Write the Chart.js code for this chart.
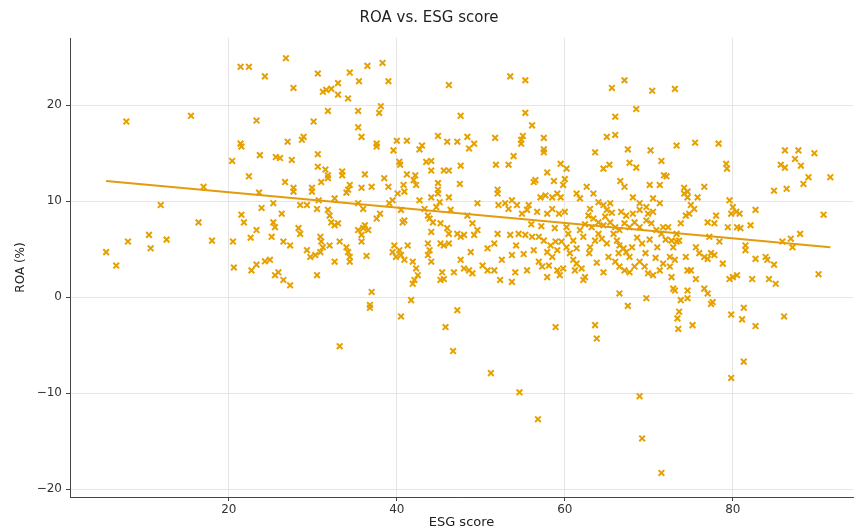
<!DOCTYPE html>
<html>
<head>
<meta charset="utf-8">
<script src="https://cdn.jsdelivr.net/npm/chart.js@4.4.1/dist/chart.umd.min.js"></script>
<style>
  html, body { margin: 0; padding: 0; background: #fff; }
  #wrap { width: 859px; height: 531px; }
</style>
</head>
<body>
<div id="wrap"><canvas id="chartRoa" width="859" height="531"></canvas></div>
<script>
// ESG score (x) and ROA in % (y), grouped by area
const esgScore = [
  5.4,6.6,7.8,8.0,10.5,10.7,11.9,12.6,15.5,16.4,17.0,18.0,20.4,20.5,20.6,21.4,22.4,24.3,23.3,21.4,21.5,23.7,22.4,23.6,21.5,21.8,23.9,23.3,22.6,22.7,23.3,24.3,
  26.8,30.6,34.4,36.5,38.3,27.7,33.0,31.6,31.2,32.2,
  35.5,33.0,34.2,39.0,46.2,31.8,35.4,38.1,37.9,47.6,
  30.1,35.4,35.8,27.0,28.9,28.7,37.6,37.6,40.0,41.2,
  44.9,46.0,47.2,43.0,42.7,39.6,30.6,25.6,26.1,27.5,
  40.3,40.4,43.5,44.1,30.6,31.5,31.8,31.8,33.5,33.5,
  36.2,41.2,42.2,44.1,45.6,46.2,47.6,26.7,27.7,29.9,
  31.0,34.4,34.2,35.8,37.0,38.5,39.0,40.8,40.9,42.0,
  42.3,44.9,44.9,47.5,
  53.5,55.3,65.6,67.1,70.4,55.3,68.5,56.1,66.0,48.4,
  49.2,48.6,51.7,55.0,54.8,54.8,57.5,57.5,57.5,65.0,
  66.0,67.5,70.2,63.6,53.9,51.8,53.3,64.6,65.3,67.7,
  68.5,71.5,59.5,60.2,57.9,56.5,56.3,58.7,60.0,59.8,
  62.6,66.6,67.1,70.1,71.3,71.8,52.0,
  73.1,73.3,75.5,78.3,79.2,79.3,86.2,87.8,89.7,87.4,
  85.7,86.2,88.1,89.0,88.4,91.6,84.9,86.4,72.1,74.2,
  74.6,76.6,
  25.3,26.3,25.3,25.5,25.1,27.7,29.9,28.5,29.3,28.3,
  28.5,30.7,30.5,31.8,32.0,32.2,32.6,33.0,32.6,34.0,
  35.4,36.0,38.0,37.6,35.4,36.0,36.2,36.6,35.8,35.8,
  30.9,31.0,31.2,30.9,32.0,26.5,27.3,29.3,29.7,30.3,
  24.9,32.6,33.2,34.0,34.2,34.4,34.4,36.4,25.5,25.9,
  26.5,27.3,30.5,37.0,36.8,36.8,39.1,39.5,40.1,40.5,
  40.9,40.7,39.7,39.5,40.3,39.9,40.5,41.3,40.9,41.9,
  42.3,42.5,41.9,42.1,41.7,40.5,45.8,47.2,42.7,43.3,
  43.7,44.1,44.9,45.1,44.7,43.9,44.3,46.2,46.4,44.1,
  45.2,46.0,46.2,47.2,47.6,48.0,43.7,43.9,43.7,44.1,
  45.2,45.6,46.2,45.4,45.6,45.2,46.8,47.6,48.0,
  49.6,52.0,48.4,49.0,49.6,49.2,52.1,52.9,53.3,53.7,
  54.3,54.9,55.7,55.5,52.0,53.5,54.5,55.3,56.1,56.9,
  57.1,57.7,58.5,59.1,59.5,56.7,57.9,58.5,59.3,60.0,
  61.4,61.8,63.4,64.0,64.6,65.0,65.4,68.1,68.9,69.7,
  70.5,71.3,62.8,63.4,64.0,64.6,63.2,64.0,64.4,63.6,
  61.8,62.2,61.0,61.4,60.2,60.4,59.6,60.2,57.5,58.3,
  58.9,57.9,58.5,59.1,56.9,57.3,58.1,59.1,59.8,59.4,
  57.9,60.6,61.0,61.4,62.0,61.2,62.4,62.2,50.8,51.6,
  50.2,50.8,51.6,52.5,53.7,54.1,55.5,52.3,53.7,48.8,
  48.6,49.0,65.8,66.2,66.5,67.0,66.4,67.3,67.7,66.0,
  66.5,67.1,67.7,68.3,68.9,69.5,69.9,70.5,71.3,71.7,
  65.4,66.0,66.5,67.1,67.7,68.3,68.9,69.7,70.3,70.9,
  71.5,71.7,66.7,67.3,68.1,68.9,69.9,70.5,66.5,69.7,
  67.5,58.9,63.6,63.8,63.0,64.8,65.6,62.4,68.6,69.2,
  70.1,68.0,69.6,70.8,62.9,63.8,64.6,65.2,65.0,63.0,
  71.0,72.0,56.0,57.2,58.8,55.1,56.3,54.2,
  74.2,74.6,75.8,75.0,75.4,74.8,74.4,73.8,73.3,72.7,
  73.3,72.9,73.6,72.3,72.5,77.0,78.0,77.8,79.6,80.0,
  80.4,79.8,80.8,82.7,90.8,79.4,80.5,80.9,82.1,75.6,
  76.0,76.6,77.0,77.4,77.8,77.2,78.4,81.5,81.5,85.9,
  86.9,88.0,87.1,74.4,73.1,72.5,72.7,74.6,75.0,75.6,
  74.6,72.9,73.1,76.6,77.0,77.6,78.8,79.6,80.0,80.5,
  82.7,83.9,84.1,84.9,82.3,84.3,85.1,90.2,73.8,74.6,
  73.6,73.4,73.5,75.2,79.8,81.3,81.1,82.7,86.1,77.4,
  51.2,54.6,56.8,68.9,69.2,71.5,33.2,46.7,79.8,81.3
];
const roa = [
  4.7,3.3,18.3,5.8,6.5,5.1,9.6,6.0,18.9,7.8,11.5,5.9,14.2,5.8,3.1,24.0,24.0,23.0,18.4,16.0,15.7,14.8,12.6,10.9,8.6,7.8,9.3,7.0,6.2,2.8,3.4,3.75,
  24.9,23.3,23.4,24.1,24.4,21.8,22.3,21.6,21.4,21.7,
  22.5,21.1,20.7,22.5,22.1,19.4,19.4,19.9,19.2,18.9,
  18.3,17.7,16.7,16.2,16.7,16.4,16.0,15.7,16.3,16.3,
  16.8,16.2,16.2,15.8,15.4,15.3,14.9,14.6,14.5,14.3,
  14.1,13.8,14.1,14.2,13.6,13.3,12.7,12.4,13.1,12.7,
  12.8,12.8,12.7,13.2,13.2,13.2,13.7,12.0,11.4,11.4,
  12.0,11.7,11.2,11.4,11.5,12.4,11.5,11.7,11.0,12.2,
  11.7,11.9,11.2,11.8,
  23.0,22.6,21.8,22.6,21.5,19.2,19.6,17.9,18.8,16.7,
  16.0,15.5,16.6,16.8,16.4,16.0,16.6,15.4,15.1,16.7,
  16.9,15.4,15.3,15.1,14.7,13.8,13.8,13.4,13.8,14.0,
  13.5,14.2,13.9,13.4,13.0,12.2,12.0,12.1,12.3,11.7,
  11.5,12.1,11.5,11.7,11.7,12.7,11.2,
  21.7,15.8,16.1,16.0,13.9,13.4,15.3,15.3,15.0,14.4,
  13.8,13.5,13.7,12.5,11.8,12.5,11.1,11.3,12.6,11.4,
  11.0,11.5,
  9.8,8.7,7.8,7.3,6.3,11.0,11.0,9.6,9.6,7.2,
  6.6,10.1,9.2,9.1,8.5,7.8,7.5,7.7,10.3,10.9,
  9.8,9.2,8.7,8.2,7.0,7.2,7.5,7.0,6.5,5.8,
  6.3,5.8,5.2,4.7,5.4,5.8,5.4,4.9,4.2,4.4,
  3.9,3.7,5.8,5.2,4.7,4.2,3.7,4.3,2.3,2.6,
  1.8,1.25,2.3,0.55,-0.8,-1.1,9.8,10.1,10.8,9.1,
  8.0,7.8,5.4,4.7,4.9,4.2,4.4,5.4,3.9,3.7,
  3.0,2.3,1.4,1.8,-0.3,-2.0,-3.1,-1.35,10.1,9.2,
  8.5,10.4,10.8,9.9,9.4,8.2,7.8,10.4,9.1,6.8,
  7.7,7.2,6.6,6.6,6.3,6.5,5.6,4.9,4.4,3.7,
  5.6,5.4,5.6,2.6,1.9,1.8,2.6,3.9,3.0,
  9.8,10.8,8.5,7.7,7.0,6.5,9.6,9.8,9.2,10.1,
  9.6,8.7,9.6,9.1,6.6,6.5,6.6,6.5,6.3,6.3,
  10.4,10.6,10.4,10.8,10.4,8.9,8.7,9.2,8.7,8.9,
  10.8,10.3,10.8,9.9,9.6,9.1,9.8,10.4,9.8,9.4,
  10.3,9.8,8.5,8.2,7.8,7.5,7.3,6.6,6.1,5.9,
  7.0,6.3,5.9,5.1,7.3,6.6,5.8,5.2,5.9,5.4,
  5.8,4.7,4.2,4.9,3.7,3.2,3.3,2.8,3.0,2.3,
  2.1,4.6,3.9,3.5,3.0,2.8,2.1,1.8,5.1,5.6,
  3.3,2.8,2.8,3.9,4.4,2.6,2.8,1.8,1.6,4.7,
  2.8,2.5,6.6,5.9,5.4,5.1,4.6,4.7,4.2,3.7,
  3.2,2.8,2.6,3.2,3.7,3.2,2.5,2.3,2.8,3.5,
  7.8,7.3,7.0,7.7,7.3,7.8,7.3,8.0,7.7,7.0,
  6.6,7.3,8.9,8.5,8.7,9.1,8.7,8.9,0.4,-0.1,
  -0.9,-3.1,-2.9,-4.3,9.2,8.4,8.8,7.6,6.2,5.6,
  6.0,5.2,4.6,4.1,4.6,3.6,2.6,4.2,5.6,5.2,
  5.2,6.0,7.6,7.4,7.2,4.5,4.9,5.4,
  10.8,10.4,10.4,9.6,9.2,8.7,8.5,7.7,6.6,5.9,
  5.8,5.2,5.9,7.3,4.2,7.8,8.5,7.7,10.1,9.4,
  8.9,8.7,8.7,9.1,8.6,7.3,7.3,7.2,7.5,5.2,
  4.6,4.2,4.0,4.6,4.4,6.3,5.8,5.4,4.9,5.8,
  6.1,6.6,5.2,4.2,3.9,3.2,2.1,2.8,2.8,1.9,
  0.7,0.9,0.7,0.9,0.4,-0.5,3.5,1.9,2.1,2.3,
  4.0,4.2,3.9,3.4,1.9,1.9,1.4,2.4,-0.3,-0.1,
  -1.5,-2.2,-3.3,-2.9,-1.8,-1.1,-2.3,-3.0,-2.0,-0.7,
  -7.9,-9.9,-12.7,-10.3,-14.7,-18.3,-5.1,-5.6,-8.4,-6.7
];
// fitted line, end points as drawn
const trendEsg = [5.4, 91.6];
const trendRoa = [12.1, 5.2];
const xTicks = [20, 40, 60, 80];
const yTicks = [-20, -10, 0, 10, 20];

(function () {
  const orange = '#e6a100';
  const font = 'DejaVu Sans';
  Chart.defaults.font.family = font;
  Chart.defaults.color = '#333';

  const gridOpts = {
    color: '#dedede',
    lineWidth: 0.8,
    borderDash: [2, 3],
    tickColor: '#444',
    tickLength: 4,
    tickBorderDash: [],
    tickWidth: 1,
  };

  new Chart(document.getElementById('chartRoa'), {
    type: 'scatter',
    data: {
      datasets: [
        {
          type: 'line',
          data: trendEsg.map((x, i) => ({ x, y: trendRoa[i] })),
          borderColor: '#e39c0d',
          borderWidth: 2,
          pointRadius: 0,
          fill: false,
          order: 0,
        },
        {
          data: esgScore.map((x, i) => ({ x, y: roa[i] })),
          pointStyle: 'crossRot',
          pointRadius: 4,
          borderWidth: 2,
          borderColor: orange,
          backgroundColor: orange,
          order: 1,
        },
      ],
    },
    options: {
      responsive: false,
      animation: false,
      layout: { padding: { left: 0, right: 1, top: 0, bottom: 0 } },
      plugins: {
        legend: { display: false },
        tooltip: { enabled: false },
        title: {
          display: true,
          text: 'ROA vs. ESG score',
          color: '#222',
          font: { size: 15, weight: 'normal' },
          padding: { top: 9, bottom: 11 },
        },
      },
      scales: {
        x: {
          type: 'linear',
          min: 1.1,
          max: 94.3,
          afterBuildTicks: (s) => { s.ticks = xTicks.map((v) => ({ value: v })); },
          afterFit: (s) => { s.height = 34; },
          grid: gridOpts,
          border: { display: true, color: '#444', width: 1 },
          ticks: { font: { size: 12 }, color: '#333', padding: 2, maxRotation: 0 },
          title: {
            display: true,
            text: 'ESG score',
            color: '#222',
            font: { size: 13 },
            padding: { top: 0, bottom: 1 },
          },
        },
        y: {
          min: -20.8,
          max: 27,
          afterBuildTicks: (s) => { s.ticks = yTicks.map((v) => ({ value: v })); },
          afterFit: (s) => { s.width = 70; },
          grid: gridOpts,
          border: { display: true, color: '#444', width: 1 },
          ticks: {
            font: { size: 12 },
            color: '#333',
            padding: 4,
            callback: (v) => String(v).replace('-', '\u2212'),
          },
          title: {
            display: true,
            text: 'ROA (%)',
            color: '#222',
            font: { size: 12 },
            padding: { top: 14, bottom: 0 },
          },
        },
      },
    },
  });
})();
</script>
</body>
</html>
